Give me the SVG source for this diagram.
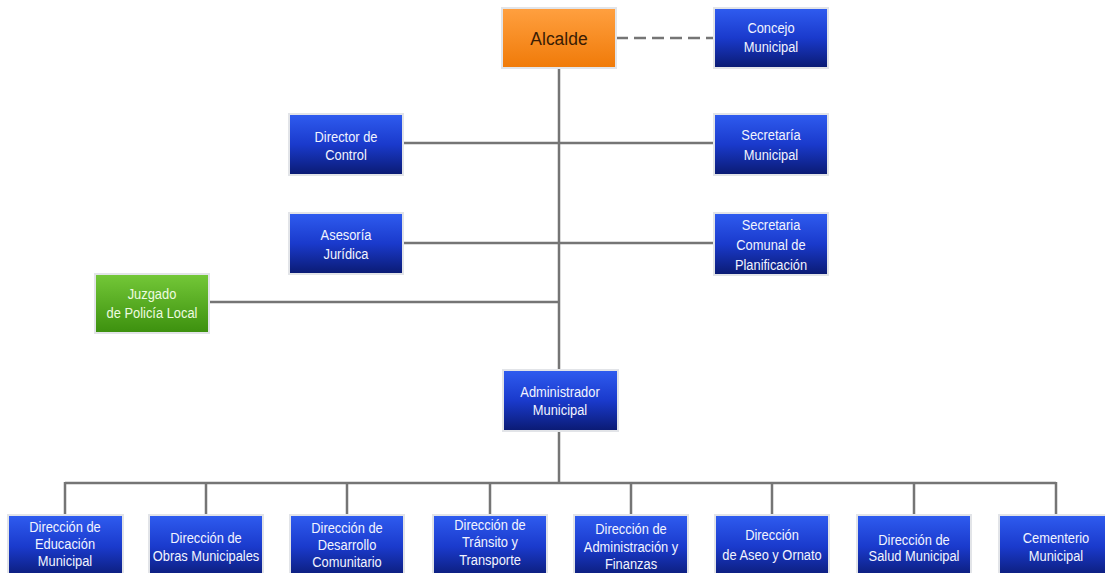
<svg xmlns="http://www.w3.org/2000/svg" width="1105" height="573" viewBox="0 0 1105 573">
  <defs>
    <linearGradient id="gBlue" x1="0" y1="0" x2="0" y2="1">
      <stop offset="0" stop-color="#2f5cf0"/>
      <stop offset="0.5" stop-color="#1a3acc"/>
      <stop offset="1" stop-color="#0a1a72"/>
    </linearGradient>
    <linearGradient id="gOrange" x1="0" y1="0" x2="0" y2="1">
      <stop offset="0" stop-color="#ffa040"/>
      <stop offset="1" stop-color="#f07a08"/>
    </linearGradient>
    <linearGradient id="gGreen" x1="0" y1="0" x2="0" y2="1">
      <stop offset="0" stop-color="#74c838"/>
      <stop offset="1" stop-color="#3c900e"/>
    </linearGradient>
  </defs>
  <style>
    .box { stroke: #e2e4e8; stroke-width: 2; }
    .blue { fill: url(#gBlue); }
    .orange { fill: url(#gOrange); }
    .green { fill: url(#gGreen); }
    text { font-family: "Liberation Sans", Arial, sans-serif; font-size: 14px; text-anchor: middle; }
    .wt { fill: #f2f4ff; }
    .gt { fill: #eefbe0; }
    .line { stroke: #757575; stroke-width: 2.5; fill: none; }
    .dash { stroke-dasharray: 12 6; }
  </style>
  <rect width="1105" height="573" fill="#ffffff"/>

  <!-- connectors -->
  <g id="connectors">
    <path class="line dash" d="M616 38 H714"/>
    <path class="line" d="M559 68 V370"/>
    <path class="line" d="M403 143 H714"/>
    <path class="line" d="M403 243 H714"/>
    <path class="line" d="M209 302 H559"/>
    <path class="line" d="M559 431 V483"/>
    <path class="line" d="M65 483 H1056"/>
    <path class="line" d="M65 482 V515 M206 482 V515 M347 482 V515 M490 482 V515 M631 482 V515 M772 482 V515 M914 482 V515 M1056 482 V515"/>
  </g>

  <g id="alcalde">
    <rect class="box orange" x="502" y="8" width="114" height="60"/>
    <text x="559" y="45" style="font-size:19px;fill:#3a1c04" transform="translate(559 0) scale(0.92 1) translate(-559 0)">Alcalde</text>
  </g>

  <g id="concejo">
    <rect class="box blue" x="714" y="8" width="114" height="60"/>
    <g class="wt" transform="translate(771 0) scale(0.92 1)">
      <text x="0" y="33" class="wt">Concejo</text>
      <text x="0" y="52" class="wt">Municipal</text>
    </g>
  </g>

  <g id="director-control">
    <rect class="box blue" x="289" y="114" width="114" height="61"/>
    <g transform="translate(346 0) scale(0.92 1)">
      <text x="0" y="142" class="wt">Director de</text>
      <text x="0" y="160" class="wt">Control</text>
    </g>
  </g>

  <g id="secretaria-municipal">
    <rect class="box blue" x="714" y="114" width="114" height="61"/>
    <g transform="translate(771 0) scale(0.92 1)">
      <text x="0" y="140" class="wt">Secretaría</text>
      <text x="0" y="160" class="wt">Municipal</text>
    </g>
  </g>

  <g id="asesoria-juridica">
    <rect class="box blue" x="289" y="213" width="114" height="61"/>
    <g transform="translate(346 0) scale(0.92 1)">
      <text x="0" y="240" class="wt">Asesoría</text>
      <text x="0" y="259" class="wt">Jurídica</text>
    </g>
  </g>

  <g id="secplan">
    <rect class="box blue" x="714" y="213" width="114" height="62"/>
    <g transform="translate(771 0) scale(0.92 1)">
      <text x="0" y="230" class="wt">Secretaria</text>
      <text x="0" y="250" class="wt">Comunal de</text>
      <text x="0" y="270" class="wt">Planificación</text>
    </g>
  </g>

  <g id="juzgado">
    <rect class="box green" x="95" y="274" width="114" height="59"/>
    <g transform="translate(152 0) scale(0.92 1)">
      <text x="0" y="299" class="gt">Juzgado</text>
      <text x="0" y="318" class="gt">de Policía Local</text>
    </g>
  </g>

  <g id="administrador">
    <rect class="box blue" x="503" y="370" width="115" height="61"/>
    <g transform="translate(560 0) scale(0.92 1)">
      <text x="0" y="397" class="wt">Administrador</text>
      <text x="0" y="415" class="wt">Municipal</text>
    </g>
  </g>

  <g id="dir-educacion">
    <rect class="box blue" x="8" y="515" width="115" height="64"/>
    <g transform="translate(65 0) scale(0.92 1)">
      <text x="0" y="532" class="wt">Dirección de</text>
      <text x="0" y="549" class="wt">Educación</text>
      <text x="0" y="566" class="wt">Municipal</text>
    </g>
  </g>

  <g id="dir-obras">
    <rect class="box blue" x="149" y="515" width="114" height="64"/>
    <g transform="translate(206 0) scale(0.92 1)">
      <text x="0" y="543" class="wt">Dirección de</text>
      <text x="0" y="561" class="wt">Obras Municipales</text>
    </g>
  </g>

  <g id="dir-desarrollo">
    <rect class="box blue" x="290" y="515" width="114" height="64"/>
    <g transform="translate(347 0) scale(0.92 1)">
      <text x="0" y="533" class="wt">Dirección de</text>
      <text x="0" y="550" class="wt">Desarrollo</text>
      <text x="0" y="567" class="wt">Comunitario</text>
    </g>
  </g>

  <g id="dir-transito">
    <rect class="box blue" x="433" y="515" width="114" height="64"/>
    <g transform="translate(490 0) scale(0.92 1)">
      <text x="0" y="530" class="wt">Dirección de</text>
      <text x="0" y="547" class="wt">Tránsito y</text>
      <text x="0" y="565" class="wt">Transporte</text>
    </g>
  </g>

  <g id="dir-administracion">
    <rect class="box blue" x="574" y="515" width="114" height="64"/>
    <g transform="translate(631 0) scale(0.92 1)">
      <text x="0" y="534" class="wt">Dirección de</text>
      <text x="0" y="552" class="wt">Administración y</text>
      <text x="0" y="569" class="wt">Finanzas</text>
    </g>
  </g>

  <g id="dir-aseo">
    <rect class="box blue" x="715" y="515" width="114" height="64"/>
    <g transform="translate(772 0) scale(0.92 1)">
      <text x="0" y="540" class="wt">Dirección</text>
      <text x="0" y="560" class="wt">de Aseo y Ornato</text>
    </g>
  </g>

  <g id="dir-salud">
    <rect class="box blue" x="857" y="515" width="114" height="64"/>
    <g transform="translate(914 0) scale(0.92 1)">
      <text x="0" y="545" class="wt">Dirección de</text>
      <text x="0" y="561" class="wt">Salud Municipal</text>
    </g>
  </g>

  <g id="cementerio">
    <rect class="box blue" x="999" y="515" width="114" height="64"/>
    <g transform="translate(1056 0) scale(0.92 1)">
      <text x="0" y="543" class="wt">Cementerio</text>
      <text x="0" y="561" class="wt">Municipal</text>
    </g>
  </g>
</svg>
